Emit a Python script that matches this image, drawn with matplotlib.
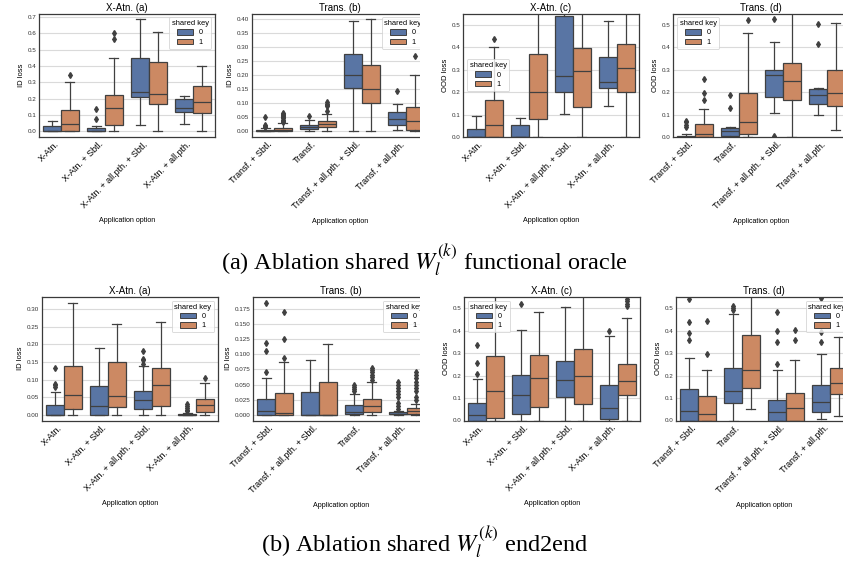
import matplotlib
matplotlib.use('Agg')
import matplotlib.pyplot as plt
import numpy as np
from matplotlib.patches import Patch, Rectangle

plt.rcParams['font.family'] = ['Liberation Sans', 'DejaVu Sans']
plt.rcParams['mathtext.fontset'] = 'stix'

# category orders
xatn_cats = ['X-Atn.', 'X-Atn. + Sbtl.', 'X-Atn. + all.pth. + Sbtl.', 'X-Atn. + all.pth.']
trans_cats = ['Transf. + Sbtl.', 'Transf.', 'Transf. + all.pth. + Sbtl.', 'Transf. + all.pth.']
trans_cats_e2e = ['Transf. + Sbtl.', 'Transf. + all.pth. + Sbtl.', 'Transf.', 'Transf. + all.pth.']
hue_labels = ['0', '1']

# box stats per category: (whisker low, q1, median, q3, whisker high)
# ---- (a) functional oracle ----
fo_xatn_id_k0 = [(0, 0, 0, 0.035, 0.065), (0, 0, 0, 0.021, 0.03),
                 (0.04, 0.21, 0.24, 0.447, 0.688), (0.045, 0.117, 0.145, 0.2, 0.216)]
fo_xatn_id_k1 = [(0, 0, 0.045, 0.134, 0.30), (0, 0.039, 0.144, 0.22, 0.451),
                 (0, 0.165, 0.232, 0.424, 0.609), (0, 0.113, 0.181, 0.276, 0.399)]
fo_xatn_id_fl0 = [[], [0.078, 0.138], [], []]
fo_xatn_id_fl1 = [[0.344], [0.568, 0.605], [], []]

fo_trans_id_k0 = [(0, 0, 0.002, 0.005, 0.012), (0, 0.007, 0.0156, 0.023, 0.042),
                  (0, 0.154, 0.201, 0.275, 0.395), (0.006, 0.023, 0.043, 0.07, 0.099)]
fo_trans_id_k1 = [(0, 0, 0.004, 0.012, 0.029), (0, 0.0144, 0.026, 0.037, 0.062),
                  (0, 0.10, 0.152, 0.235, 0.40), (0, 0.005, 0.037, 0.087, 0.201)]
fo_trans_id_fl0 = [[0.015, 0.018, 0.021, 0.052], [0.055], [], [0.145]]
fo_trans_id_fl1 = [[0.034, 0.038, 0.042, 0.046, 0.05, 0.054, 0.058, 0.062, 0.065],
                   [0.074, 0.089, 0.094, 0.099, 0.105], [], [0.268]]

fo_xatn_ood_k0 = [(0, 0, 0, 0.0375, 0.095), (0, 0, 0, 0.054, 0.084),
                  (0.102, 0.20, 0.27, 0.537, 0.70), (0.138, 0.216, 0.246, 0.357, 0.515)]
fo_xatn_ood_k1 = [(0, 0, 0.0525, 0.165, 0.40), (0, 0.08, 0.20, 0.37, 0.65),
                  (0, 0.132, 0.293, 0.395, 0.75), (0, 0.201, 0.306, 0.414, 0.70)]
fo_xatn_ood_fl0 = [[], [], [], []]
fo_xatn_ood_fl1 = [[0.435], [], [], []]

fo_trans_ood_k0 = [(0, 0, 0.002, 0.005, 0.012), (0, 0.003, 0.0255, 0.039, 0.045),
                   (0.105, 0.18, 0.275, 0.30, 0.422), (0.099, 0.147, 0.186, 0.215, 0.219)]
fo_trans_ood_k1 = [(0, 0, 0.015, 0.057, 0.123), (0, 0.012, 0.068, 0.197, 0.465),
                   (0, 0.165, 0.25, 0.33, 0.80), (0.029, 0.14, 0.197, 0.30, 0.507)]
fo_trans_ood_fl0 = [[0.045, 0.055, 0.065, 0.072], [0.129, 0.189], [0.005, 0.527], [0.416, 0.503]]
fo_trans_ood_fl1 = [[0.165, 0.195, 0.258], [0.522], [], []]

# ---- (b) end2end ----
e2e_xatn_id_k0 = [(0, 0, 0, 0.027, 0.066), (0, 0, 0.025, 0.0825, 0.19),
                  (0, 0.018, 0.043, 0.068, 0.14), (0, 0, 0.001, 0.003, 0.006)]
e2e_xatn_id_k1 = [(0, 0.018, 0.0566, 0.139, 0.319), (0, 0.022, 0.055, 0.151, 0.259),
                  (0, 0.025, 0.086, 0.132, 0.265), (0, 0.0086, 0.028, 0.044, 0.092)]
e2e_xatn_id_fl0 = [[0.08, 0.085, 0.088, 0.132], [], [0.145, 0.155, 0.16, 0.181],
                   [0.01, 0.015, 0.02, 0.025, 0.03]]
e2e_xatn_id_fl1 = [[], [], [], [0.1035]]

e2e_trans_id_k0 = [(0, 0, 0.0066, 0.0255, 0.0615), (0, 0, 0, 0.037, 0.0897),
                   (0, 0.001, 0.005, 0.0166, 0.035), (0, 0.001, 0.002, 0.005, 0.007)]
e2e_trans_id_k1 = [(0, 0, 0.003, 0.0366, 0.087), (0, 0, 0, 0.055, 0.116),
                   (0, 0.005, 0.015, 0.026, 0.055), (0, 0.002, 0.006, 0.0116, 0.018)]
e2e_trans_id_fl0 = [[0.071, 0.105, 0.119, 0.185], [], [0.04, 0.043, 0.046, 0.05],
                    [0.01, 0.015, 0.02, 0.03, 0.035, 0.04, 0.045, 0.05, 0.055]]
e2e_trans_id_fl1 = [[0.094, 0.125, 0.169], [], [0.058, 0.062, 0.066, 0.07, 0.074, 0.078],
                    [0.025, 0.03, 0.04, 0.045, 0.05, 0.055, 0.06, 0.065, 0.07]]

e2e_xatn_ood_k0 = [(0, 0, 0.025, 0.078, 0.186), (0, 0.028, 0.112, 0.202, 0.404),
                   (0, 0.105, 0.18, 0.266, 0.506), (0, 0.0075, 0.055, 0.157, 0.377)]
e2e_xatn_ood_k1 = [(0, 0.012, 0.133, 0.287, 0.60), (0, 0.061, 0.19, 0.292, 0.485),
                   (0, 0.075, 0.198, 0.319, 0.60), (0, 0.114, 0.175, 0.25, 0.455)]
e2e_xatn_ood_fl0 = [[0.205, 0.254, 0.335], [0.521], [], [0.397]]
e2e_xatn_ood_fl1 = [[], [], [], [0.51, 0.52, 0.53, 0.54]]

e2e_trans_ood_k0 = [(0, 0, 0.043, 0.14, 0.278), (0, 0.078, 0.133, 0.236, 0.476),
                    (0, 0, 0.039, 0.093, 0.223), (0.0075, 0.037, 0.084, 0.156, 0.295)]
e2e_trans_ood_k1 = [(0, 0, 0.031, 0.11, 0.226), (0.049, 0.145, 0.225, 0.38, 0.60),
                    (0, 0, 0.055, 0.123, 0.271), (0.018, 0.12, 0.165, 0.236, 0.371)]
e2e_trans_ood_fl0 = [[0.359, 0.389, 0.439, 0.543], [0.49, 0.50, 0.51], [0.25, 0.35, 0.40, 0.482],
                     [0.35, 0.392, 0.545]]
e2e_trans_ood_fl1 = [[0.295, 0.444], [], [0.36, 0.401], []]

panels = [
    # (left px, top px, title, cats, k0, k1, fl0, fl1, ylabel, ylim, legend loc)
    (39, 13.5, 'X-Atn. (a)', xatn_cats, fo_xatn_id_k0, fo_xatn_id_k1, fo_xatn_id_fl0, fo_xatn_id_fl1, 'ID loss', None, 'upper right'),
    (252, 13.5, 'Trans. (b)', trans_cats, fo_trans_id_k0, fo_trans_id_k1, fo_trans_id_fl0, fo_trans_id_fl1, 'ID loss', None, 'upper right'),
    (463, 13.5, 'X-Atn. (c)', xatn_cats, fo_xatn_ood_k0, fo_xatn_ood_k1, fo_xatn_ood_fl0, fo_xatn_ood_fl1, 'OOD loss', (0, 0.55), 'center left'),
    (673, 13.5, 'Trans. (d)', trans_cats, fo_trans_ood_k0, fo_trans_ood_k1, fo_trans_ood_fl0, fo_trans_ood_fl1, 'OOD loss', (0, 0.55), 'upper left'),
    (42, 297, 'X-Atn. (a)', xatn_cats, e2e_xatn_id_k0, e2e_xatn_id_k1, e2e_xatn_id_fl0, e2e_xatn_id_fl1, 'ID loss', None, 'upper right'),
    (253, 297, 'Trans. (b)', trans_cats_e2e, e2e_trans_id_k0, e2e_trans_id_k1, e2e_trans_id_fl0, e2e_trans_id_fl1, 'ID loss', None, 'upper right'),
    (464, 297, 'X-Atn. (c)', xatn_cats, e2e_xatn_ood_k0, e2e_xatn_ood_k1, e2e_xatn_ood_fl0, e2e_xatn_ood_fl1, 'OOD loss', (0, 0.55), 'upper left'),
    (676, 297, 'Trans. (d)', trans_cats, e2e_trans_ood_k0, e2e_trans_ood_k1, e2e_trans_ood_fl0, e2e_trans_ood_fl1, 'OOD loss', (0, 0.55), 'upper right'),
]

W, H = 843, 565
colors = ['#5975a4', '#cc8963']
line_c = '#404040'

fig = plt.figure(figsize=(W / 100, H / 100), dpi=100)


def make_stats(rows, fliers):
    out = []
    for (lo, q1, med, q3, hi), fl in zip(rows, fliers):
        out.append(dict(whislo=lo, q1=q1, med=med, q3=q3, whishi=hi, fliers=fl))
    return out


for left, top, title, cats, k0, k1, fl0, fl1, ylab, ylim, loc in panels:
    ax = fig.add_axes([left / W, 1 - (top + 123.5) / H, 176 / W, 123.5 / H])
    x = np.arange(len(cats))
    for i, (rows, fl) in enumerate([(k0, fl0), (k1, fl1)]):
        ax.bxp(make_stats(rows, fl), positions=x - 0.2 + 0.4 * i, widths=0.4,
               patch_artist=True, manage_ticks=False,
               boxprops=dict(facecolor=colors[i], edgecolor=line_c, linewidth=0.9),
               medianprops=dict(color=line_c, linewidth=0.9),
               whiskerprops=dict(color=line_c, linewidth=0.9),
               capprops=dict(color=line_c, linewidth=0.9),
               flierprops=dict(marker='d', markerfacecolor=line_c, markeredgecolor=line_c,
                               markersize=3, linestyle='none'))
    ax.set_xlim(-0.5, len(cats) - 0.5)
    if ylim is not None:
        ax.set_ylim(*ylim)
    ax.set_xticks(x)
    ax.set_xticklabels(cats, rotation=45, ha='right', fontsize=6.5)
    ax.tick_params(axis='y', labelsize=4.5, length=0, pad=2, colors='#333333')
    ax.tick_params(axis='x', length=0, pad=2)
    ax.yaxis.grid(True, color='#dadada', linewidth=0.8)
    ax.set_axisbelow(True)
    for s in ax.spines.values():
        s.set_color('#3a3a3a')
        s.set_linewidth(0.9)
    ax.set_title(title, fontsize=7, pad=2)
    ax.set_ylabel(ylab, fontsize=5.5, labelpad=2)
    ax.set_xlabel('Application option', fontsize=5.1, labelpad=5)
    handles = [Patch(facecolor=colors[j], edgecolor=line_c, linewidth=0.7) for j in range(2)]
    leg = ax.legend(handles, hue_labels, title='shared key', loc=loc, fontsize=5.2,
                    title_fontsize=5.4, handlelength=2.2, handleheight=0.8,
                    borderpad=0.4, labelspacing=0.3, framealpha=0.8, edgecolor='#cccccc',
                    fancybox=True)
    leg.get_frame().set_linewidth(0.6)

# the (b) panels are clipped on their right side by the (c) panels
for top in (13.5, 297):
    fig.add_artist(Rectangle((420 / W, 1 - (top + 126) / H), 12 / W, 129 / H,
                             transform=fig.transFigure, facecolor='white',
                             edgecolor='none', zorder=1))

cap_font = ['Liberation Serif', 'DejaVu Serif']
fig.text(0.504, 1 - 270 / H, r'(a) Ablation shared $W_l^{(k)}$ functional oracle',
         ha='center', va='baseline', fontsize=17.5, family=cap_font)
fig.text(0.504, 1 - 552 / H, r'(b) Ablation shared $W_l^{(k)}$ end2end',
         ha='center', va='baseline', fontsize=17.5, family=cap_font)

fig.savefig('out.png', dpi=100)
